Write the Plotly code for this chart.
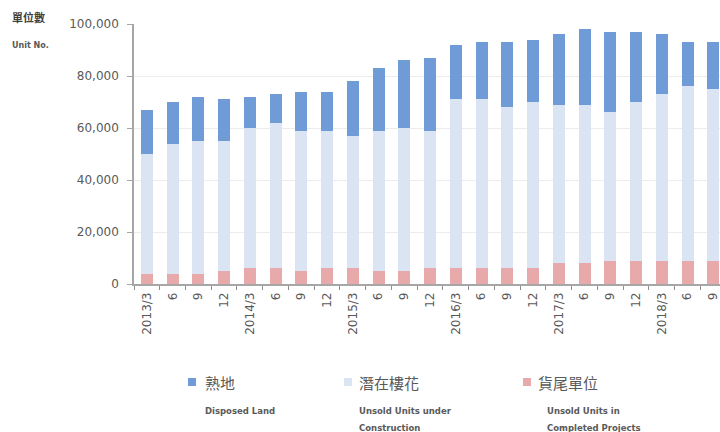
import plotly.graph_objects as go

# Quarter-end periods and their short tick labels
periods = [
    "2013/3", "2013/6", "2013/9", "2013/12",
    "2014/3", "2014/6", "2014/9", "2014/12",
    "2015/3", "2015/6", "2015/9", "2015/12",
    "2016/3", "2016/6", "2016/9", "2016/12",
    "2017/3", "2017/6", "2017/9", "2017/12",
    "2018/3", "2018/6", "2018/9",
]
tick_labels = [
    "2013/3", "6", "9", "12",
    "2014/3", "6", "9", "12",
    "2015/3", "6", "9", "12",
    "2016/3", "6", "9", "12",
    "2017/3", "6", "9", "12",
    "2018/3", "6", "9",
]

# Units in completed projects (貨尾單位)
completed_unsold = [4000, 4000, 4000, 5000, 6000, 6000, 5000, 6000, 6000, 5000, 5000, 6000,
                    6000, 6000, 6000, 6000, 8000, 8000, 9000, 9000, 9000, 9000, 9000]
# Units under construction (潛在樓花)
construction_unsold = [46000, 50000, 51000, 50000, 54000, 56000, 54000, 53000, 51000, 54000, 55000, 53000,
                       65000, 65000, 62000, 64000, 61000, 61000, 57000, 61000, 64000, 67000, 66000]
# Disposed land (熟地)
disposed_land = [17000, 16000, 17000, 16000, 12000, 11000, 15000, 15000, 21000, 24000, 26000, 28000,
                 21000, 22000, 25000, 24000, 27000, 29000, 31000, 27000, 23000, 17000, 18000]

C_DARK = "#6f9bd6"
C_LIGHT = "#dbe4f2"
C_PINK = "#e8a9aa"
TXT = "#595959"

W, H = 720, 432
ML, MR, MT, MB = 134, 0, 24, 148
PW, PH = W - ML - MR, H - MT - MB


def px(x):
    return (x - ML) / PW


def py(y):
    return (H - MB - y) / PH


fig = go.Figure()
fig.add_trace(go.Bar(x=periods, y=completed_unsold, marker_color=C_PINK, name="貨尾單位"))
fig.add_trace(go.Bar(x=periods, y=construction_unsold, marker_color=C_LIGHT, name="潛在樓花"))
fig.add_trace(go.Bar(x=periods, y=disposed_land, marker_color=C_DARK, name="熟地"))

fig.update_traces(marker_line_width=0)

font_main = "DejaVu Sans, Noto Sans CJK TC, sans-serif"

fig.update_layout(
    width=W, height=H,
    margin=dict(l=ML, r=MR, t=MT, b=MB, pad=0),
    barmode="stack",
    bargap=0.53,
    plot_bgcolor="white",
    paper_bgcolor="white",
    showlegend=False,
    font=dict(family=font_main, color=TXT, size=11),
)

fig.update_xaxes(
    type="category",
    tickmode="array",
    tickvals=periods,
    ticktext=tick_labels,
    tickangle=-90,
    tickson="boundaries",
    ticks="outside",
    ticklen=4,
    tickcolor="#8c8c8c",
    showline=True,
    linecolor="#a6a6a6",
    linewidth=1.5,
    showgrid=False,
    range=[-0.5, 22.26],
    ticklabelstandoff=2,
    tickfont=dict(size=12, color=TXT),
)

fig.update_yaxes(
    range=[0, 100000],
    tickvals=[0, 20000, 40000, 60000, 80000, 100000],
    tickformat=",",
    ticks="outside",
    ticklen=5,
    tickcolor="#a6a6a6",
    showline=True,
    linecolor="#a6a6a6",
    linewidth=1.5,
    gridcolor="#ececec",
    gridwidth=1,
    zeroline=False,
    ticklabelstandoff=6,
    tickfont=dict(size=12, color=TXT),
)

ann = []
# Axis unit caption
ann.append(dict(text="<b>單位數</b>", x=px(10), y=py(17), xref="paper", yref="paper",
                xanchor="left", yanchor="middle", showarrow=False,
                font=dict(size=11, color="#404040", family="Noto Sans CJK TC")))
ann.append(dict(text="<b>Unit No.</b>", x=px(10), y=py(45), xref="paper", yref="paper",
                xanchor="left", yanchor="middle", showarrow=False,
                font=dict(size=8, color=TXT)))

# Legend: coloured square, Chinese name, English description
legend_items = [
    (C_DARK, 192, 203, 203, "熟地", ["Disposed Land"]),
    (C_LIGHT, 348, 357, 357, "潛在樓花", ["Unsold Units under", "Construction"]),
    (C_PINK, 527, 536, 545, "貨尾單位", ["Unsold Units in", "Completed Projects"]),
]
shapes = []
for color, sx, tx, ex, zh, en_lines in legend_items:
    shapes.append(dict(type="rect", xref="paper", yref="paper",
                       x0=px(sx - 4), x1=px(sx + 4), y0=py(386), y1=py(378),
                       fillcolor=color, line=dict(width=0)))
    ann.append(dict(text=zh, x=px(tx), y=py(382), xref="paper", yref="paper",
                    xanchor="left", yanchor="middle", showarrow=False,
                    font=dict(size=15, color=TXT, family="Noto Sans CJK TC")))
    for i, line in enumerate(en_lines):
        ann.append(dict(text="<b>" + line + "</b>", x=px(ex), y=py(411 + 17 * i),
                        xref="paper", yref="paper", xanchor="left", yanchor="middle",
                        showarrow=False, font=dict(size=8.5, color=TXT)))

fig.update_layout(annotations=ann, shapes=shapes)

fig.write_html("out.html")
